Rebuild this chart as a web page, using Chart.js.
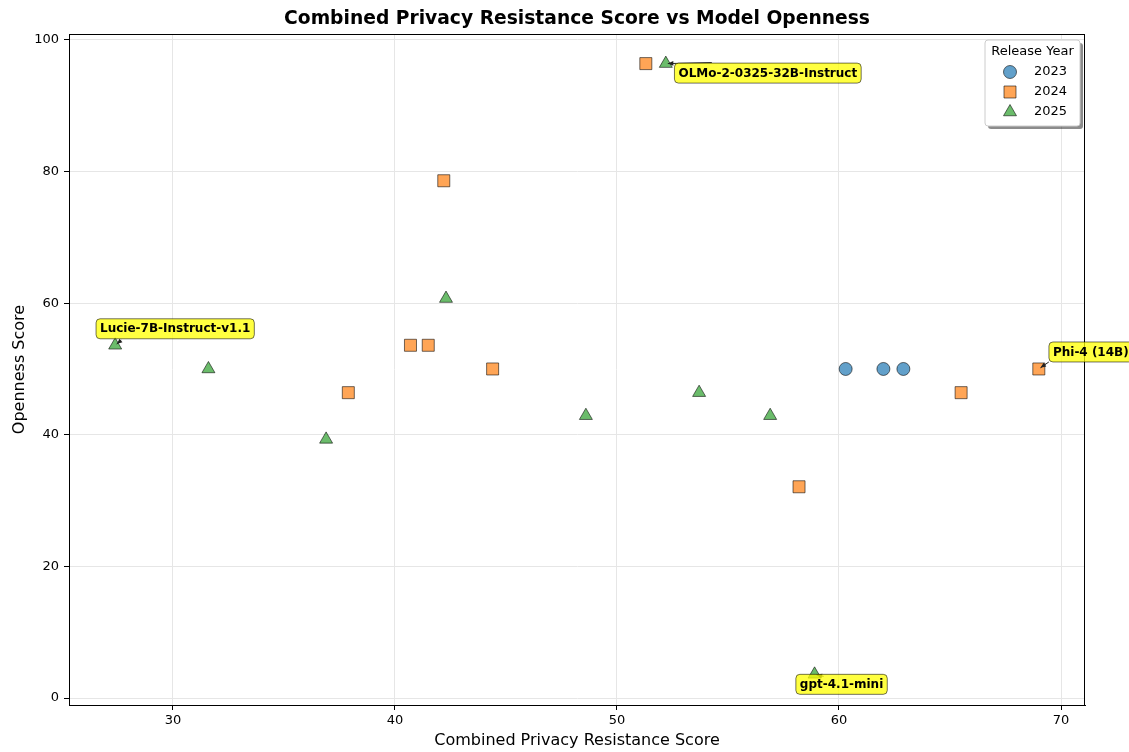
<!DOCTYPE html>
<html>
<head>
<meta charset="utf-8">
<script src="https://cdn.jsdelivr.net/npm/chart.js@4.4.1/dist/chart.umd.min.js"></script>
<style>
  html, body { margin: 0; padding: 0; background: #fff; }
  #wrap { width: 1129px; height: 752px; }
</style>
</head>
<body>
<div id="wrap"><canvas id="scatter" width="1129" height="752"></canvas></div>
<script>
// ------------------------------------------------------------
// Data: privacy resistance (x) vs openness (y), grouped by year
// ------------------------------------------------------------
const years = ['2023', '2024', '2025'];

const privacy2023 = [60.3, 62.0, 62.9];
const openness2023 = [50.0, 50.0, 50.0];

const privacy2024 = [51.3, 42.2, 40.7, 41.5, 37.9, 44.4, 58.2, 65.5, 69.0];
const openness2024 = [96.4, 78.6, 53.6, 53.6, 46.4, 50.0, 32.1, 46.4, 50.0];

const privacy2025 = [52.2, 27.4, 31.6, 36.9, 42.3, 48.6, 53.7, 56.9, 58.9];
const openness2025 = [96.4, 53.6, 50.0, 39.3, 60.7, 42.9, 46.4, 42.9, 3.6];

// labelled models
const labelNames = ['OLMo-2-0325-32B-Instruct', 'Lucie-7B-Instruct-v1.1', 'Phi-4 (14B)', 'gpt-4.1-mini'];
const labelX = [52.2, 27.4, 69.0, 58.9];
const labelY = [96.4, 53.6, 50.0, 3.6];

const xTicks = [30, 40, 50, 60, 70];
const yTicks = [0, 20, 40, 60, 80, 100];

const FONT = "'DejaVu Sans', sans-serif";
const edge = 'rgba(0,0,0,0.7)';

const styles = {
  '2023': { fill: 'rgba(31,119,180,0.7)', shape: 'circle', r: 6.5 },
  '2024': { fill: 'rgba(255,127,14,0.7)', shape: 'rect', r: 8.5 },
  '2025': { fill: 'rgba(44,160,44,0.7)', shape: 'triangle', r: 7.5 }
};

function pairs(xs, ys) {
  return xs.map((x, i) => ({ x: x, y: ys[i] }));
}

const seriesData = {
  '2023': pairs(privacy2023, openness2023),
  '2024': pairs(privacy2024, openness2024),
  '2025': pairs(privacy2025, openness2025)
};

// box centre + arrow start, in px relative to the marker
const labelOffsets = [
  { bx: 102, by: 9.5, ax: 46, ay: -1 },
  { bx: 60, by: -16.5, ax: 6, ay: -5 },
  { bx: 52, by: -17, ax: 10, ay: -7 },
  { bx: 27, by: 10, ax: 9, ay: 2 }
];

function drawShape(ctx, shape, r, x, y) {
  if (shape === 'circle') {
    ctx.arc(x, y, r, 0, Math.PI * 2);
  } else if (shape === 'rect') {
    const s = Math.SQRT1_2 * r;
    ctx.rect(x - s, y - s, 2 * s, 2 * s);
  } else {
    for (let k = 0; k < 3; k++) {
      const a = k * 2 * Math.PI / 3;
      const px = x + Math.sin(a) * r, py = y - Math.cos(a) * r;
      if (k === 0) ctx.moveTo(px, py); else ctx.lineTo(px, py);
    }
    ctx.closePath();
  }
}

// ------------------------------------------------------------
// Plugin: frame, title, annotations and legend box
// ------------------------------------------------------------
const decorations = {
  id: 'decorations',
  afterDatasetsDraw(chart) {
    const ctx = chart.ctx;
    const area = chart.chartArea;
    const xs = chart.scales.x;
    const ys = chart.scales.y;

    // full frame like matplotlib spines
    ctx.save();
    ctx.strokeStyle = '#000';
    ctx.lineWidth = 1;
    ctx.strokeRect(area.left + 0.5, area.top + 0.5, area.right - area.left - 1, area.bottom - area.top);
    ctx.restore();

    // annotations
    labelNames.forEach((name, i) => {
      const px = xs.getPixelForValue(labelX[i]);
      const py = ys.getPixelForValue(labelY[i]);
      const off = labelOffsets[i];

      // arrow
      const sx = px + off.ax, sy = py + off.ay;
      const ang = Math.atan2(py - sy, px - sx);
      const ex = px - Math.cos(ang) * 2, ey = py - Math.sin(ang) * 2;
      ctx.save();
      ctx.strokeStyle = '#222';
      ctx.fillStyle = '#222';
      ctx.lineWidth = 1;
      ctx.beginPath();
      ctx.moveTo(sx, sy);
      ctx.lineTo(ex, ey);
      ctx.stroke();
      ctx.beginPath();
      ctx.moveTo(ex, ey);
      ctx.lineTo(ex - 6 * Math.cos(ang - 0.4), ey - 6 * Math.sin(ang - 0.4));
      ctx.lineTo(ex - 6 * Math.cos(ang + 0.4), ey - 6 * Math.sin(ang + 0.4));
      ctx.closePath();
      ctx.fill();
      ctx.restore();

      // yellow box
      ctx.save();
      ctx.font = 'bold 12px ' + FONT;
      const w = ctx.measureText(name).width + 8;
      const h = 20;
      const cx = px + off.bx, cy = py + off.by;
      ctx.beginPath();
      ctx.roundRect(cx - w / 2, cy - h / 2, w, h, 4);
      ctx.fillStyle = 'rgba(255,255,0,0.75)';
      ctx.fill();
      ctx.strokeStyle = 'rgba(0,0,0,0.55)';
      ctx.lineWidth = 1;
      ctx.stroke();
      ctx.fillStyle = '#000';
      ctx.textAlign = 'center';
      ctx.textBaseline = 'middle';
      ctx.fillText(name, cx, cy + 0.5);
      ctx.restore();
    });

    // legend
    const lx = 985, ly = 40, lw = 95, lh = 86;
    ctx.save();
    ctx.fillStyle = 'rgba(0,0,0,0.45)';
    ctx.beginPath();
    ctx.roundRect(lx + 3, ly + 3, lw, lh, 3);
    ctx.fill();
    ctx.fillStyle = '#fff';
    ctx.strokeStyle = '#cccccc';
    ctx.lineWidth = 1;
    ctx.beginPath();
    ctx.roundRect(lx, ly, lw, lh, 3);
    ctx.fill();
    ctx.stroke();
    ctx.fillStyle = '#000';
    ctx.font = '13px ' + FONT;
    ctx.textAlign = 'center';
    ctx.textBaseline = 'middle';
    ctx.fillText('Release Year', lx + lw / 2, ly + 12);
    ctx.textAlign = 'left';
    years.forEach((yr, i) => {
      const st = styles[yr];
      const my = ly + 32 + i * 20;
      ctx.fillStyle = st.fill;
      ctx.strokeStyle = edge;
      ctx.lineWidth = 0.8;
      ctx.beginPath();
      drawShape(ctx, st.shape, st.r, lx + 25, my);
      ctx.fill();
      ctx.stroke();
      ctx.fillStyle = '#000';
      ctx.fillText(yr, lx + 49, my);
    });
    ctx.restore();
  }
};

const heading = {
  id: 'heading',
  afterDraw(c) {
    const ctx = c.ctx;
    const a = c.chartArea;
    ctx.save();
    ctx.fillStyle = '#000';
    ctx.font = 'bold 18.7px ' + FONT;
    ctx.textAlign = 'center';
    ctx.textBaseline = 'middle';
    ctx.fillText('Combined Privacy Resistance Score vs Model Openness', (a.left + a.right) / 2, 19);
    ctx.restore();
  }
};

const chart = new Chart(document.getElementById('scatter'), {
  type: 'scatter',
  data: {
    datasets: years.map((yr) => ({
      label: yr,
      data: seriesData[yr],
      pointStyle: styles[yr].shape,
      pointRadius: styles[yr].r,
      pointHoverRadius: styles[yr].r,
      backgroundColor: styles[yr].fill,
      borderColor: edge,
      borderWidth: 0.8
    }))
  },
  options: {
    responsive: false,
    animation: false,
    layout: { padding: { top: 34, right: 44, left: 0, bottom: 0 } },
    plugins: {
      legend: { display: false },
      tooltip: { enabled: false },
      title: { display: false }
    },
    scales: {
      x: {
        type: 'linear',
        min: 25.32,
        max: 71.08,
        afterFit: (s) => { s.height = 47; },
        afterBuildTicks: (s) => { s.ticks = xTicks.map((v) => ({ value: v })); },
        grid: { color: '#e6e6e6', tickColor: '#000', tickLength: 5, lineWidth: 1 },
        border: { color: '#000', width: 1 },
        ticks: { color: '#000', font: { family: FONT, size: 13 }, padding: 3, maxRotation: 0 },
        title: {
          display: true,
          text: 'Combined Privacy Resistance Score',
          color: '#000',
          font: { family: FONT, size: 16 },
          padding: { top: 0, bottom: 2 }
        }
      },
      y: {
        type: 'linear',
        min: -1.06,
        max: 100.9,
        afterFit: (s) => { s.width = 69; },
        afterBuildTicks: (s) => { s.ticks = yTicks.map((v) => ({ value: v })); },
        grid: { color: '#e6e6e6', tickColor: '#000', tickLength: 5, lineWidth: 1 },
        border: { color: '#000', width: 1 },
        ticks: { color: '#000', font: { family: FONT, size: 13 }, padding: 5 },
        title: {
          display: true,
          text: 'Openness Score',
          color: '#000',
          font: { family: FONT, size: 16 },
          padding: { top: 10, bottom: 0 }
        }
      }
    }
  },
  plugins: [decorations, heading]
});
</script>
</body>
</html>
